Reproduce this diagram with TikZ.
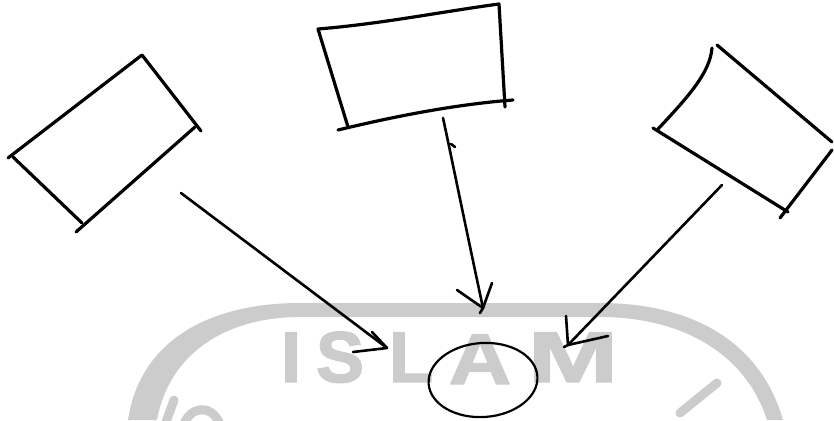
\documentclass[tikz,border=0pt]{standalone}
\usepackage{fontspec}
\setmainfont{Liberation Sans}
\newfontfamily\wmfont{Liberation Sans Bold}[FakeBold=2]
\usetikzlibrary{shapes.geometric}
\definecolor{wm}{RGB}{204,204,204}
\begin{document}
\begin{tikzpicture}[x=1pt,y=-1pt,
  pen/.style={line width=3.2pt, line cap=round, line join=round, black},
  link/.style={line width=2.6pt, line cap=round, line join=round, black},
  wmstroke/.style={wm, line width=9pt, line cap=round},
  letter/.style={text=wm, font=\wmfont\fontsize{72}{72}\selectfont, inner sep=0pt, anchor=base},
]
\useasboundingbox (0,0) rectangle (834,420);
% watermark
\fill[wm] (128,420) .. controls (140,340) and (210,303) .. (300,303) -- (600,303)
  .. controls (690,303) and (760,340) .. (783,420) -- (767,420)
  .. controls (745,352) and (680,317) .. (600,317) -- (300,317)
  .. controls (230,317) and (170,350) .. (157,420) -- cycle;
\draw[wmstroke] (174,400) -- (166,422);
\draw[wmstroke] (184,424) .. controls (190,408) and (210,402) .. (220,424);
\draw[wmstroke] (717,383) -- (680,413);
\node[letter] (wI) at (291,382) {I};
\node[letter] (wS) at (340,382) {S};
\node[letter] (wL) at (411,382) {L};
\node[letter, xscale=1.2] (wA) at (480,384) {A};
\node[letter, xscale=1.5] (wM) at (573,382) {M};
% left box
\draw[pen] (8,158) -- (142,55) -- (201,131);
\draw[pen] (195,127) -- (76,232);
\draw[pen] (13,157) -- (82,223);
% top box
\draw[pen] (348,127) -- (318,29) .. controls (380,24) and (440,12) .. (499,4) -- (505,107);
\draw[pen] (338,130) .. controls (400,115) and (460,104) .. (513,100);
% right box
\draw[pen] (712,48) .. controls (710,72) and (690,95) .. (658,129);
\draw[pen] (717,45) -- (832,142);
\draw[pen] (832,150) -- (780,218);
\draw[pen] (653,128) -- (788,212);
% target
\node[draw, ellipse, line width=2.2pt, minimum width=109pt, minimum height=74pt, rotate=4] (goal) at (483,380) {};
% arrows
\coordinate (aLs) at (181,193);
\coordinate (aLt) at (387,348);
\coordinate (aMs) at (443,118);
\coordinate (aMt) at (483,308);
\coordinate (aRs) at (722,185);
\coordinate (aRt) at (568,345);
\draw[link] (aLs) -- (aLt);
\draw[link] (aLt) -- ++(-15,-16);
\draw[link] (aLt) -- ++(-34,4);
\draw[link] (aMs) .. controls (450,150) and (460,200) .. (aMt);
\draw[link] (451,144) -- (455,147);
\draw[link] (aMt) -- ++(-26,-18);
\draw[link] (aMt) -- ++(9,-25);
\draw[link] (aMt) -- ++(-3,5);
\draw[link] (aRs) -- (aRt);
\draw[link] (aRt) -- ++(-2,-29);
\draw[link] (aRt) -- ++(40,-9);
\draw[link] (aRt) -- ++(-4,2);
\end{tikzpicture}
\end{document}
